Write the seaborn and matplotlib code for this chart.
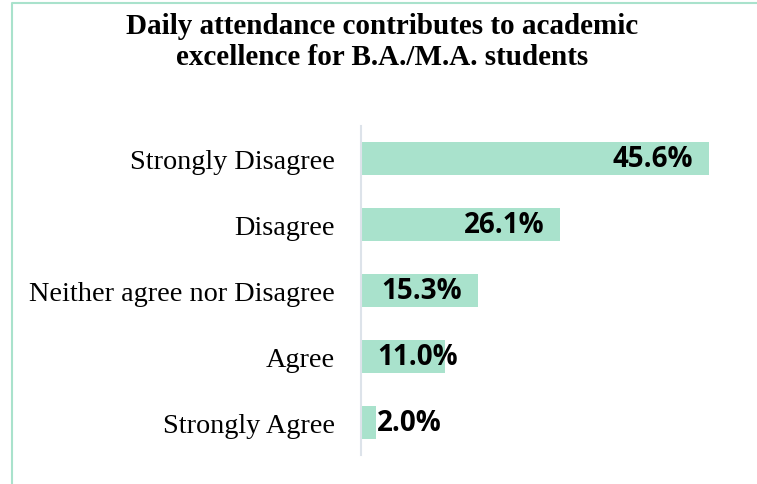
import pandas as pd
import seaborn as sns
import matplotlib.pyplot as plt
from matplotlib.lines import Line2D

# Data
categories = ["Strongly Disagree", "Disagree", "Neither agree nor Disagree", "Agree", "Strongly Agree"]
percentages = [45.6, 26.1, 15.3, 11.0, 2.0]
title = "Daily attendance contributes to academic\nexcellence for B.A./M.A. students"

df = pd.DataFrame({"kategori": categories, "persen": percentages})

sns.set_style("white")
plt.rcParams['font.family'] = ['Liberation Serif', 'DejaVu Serif']
plt.rcParams['text.color'] = 'black'
plt.rcParams['ytick.color'] = 'black'
plt.rcParams['ytick.labelcolor'] = 'black'

bar_color = "#a9e2cc"

fig = plt.figure(figsize=(7.57, 4.85), dpi=100)
ax = fig.add_axes([361 / 757, 1 - 456 / 485, 382 / 757, 329 / 485])

sns.barplot(data=df, x="persen", y="kategori", orient="h", color=bar_color,
            width=0.5, saturation=1, edgecolor="none", ax=ax)

ax.set_xlim(0, 50)
ax.set_ylim(4.5, -0.5)
ax.set_xlabel("")
ax.set_ylabel("")
ax.set_xticks([])
ax.tick_params(axis="y", length=0, pad=19, labelsize=20.3, labelcolor="black")
for s in ["top", "right", "bottom"]:
    ax.spines[s].set_visible(False)
ax.spines["left"].set_color("#dde3ea")
ax.spines["left"].set_linewidth(1.5)

# Label nilai
for i, v in enumerate(percentages):
    txt = f"{v:.1f}%"
    if v - 2.1 - 10.5 > 2:
        ax.text(v - 2.1, i, txt, ha="right", va="center", fontsize=20,
                fontweight="bold", family="Open Sans", color="black")
    else:
        ax.text(2.1, i, txt, ha="left", va="center", fontsize=20,
                fontweight="bold", family="Open Sans", color="black")

fig.text(382 / 757, 1 - 42 / 485, title, ha="center", va="center",
         fontsize=21, fontweight="bold", linespacing=1.2, color="black")

# Bingkai
fig.add_artist(Line2D([12 / 757, 12 / 757, 1], [0, 1 - 4 / 485, 1 - 4 / 485],
                      transform=fig.transFigure, color=bar_color, linewidth=1.5))

plt.savefig("out.png", dpi=100)
plt.close()
